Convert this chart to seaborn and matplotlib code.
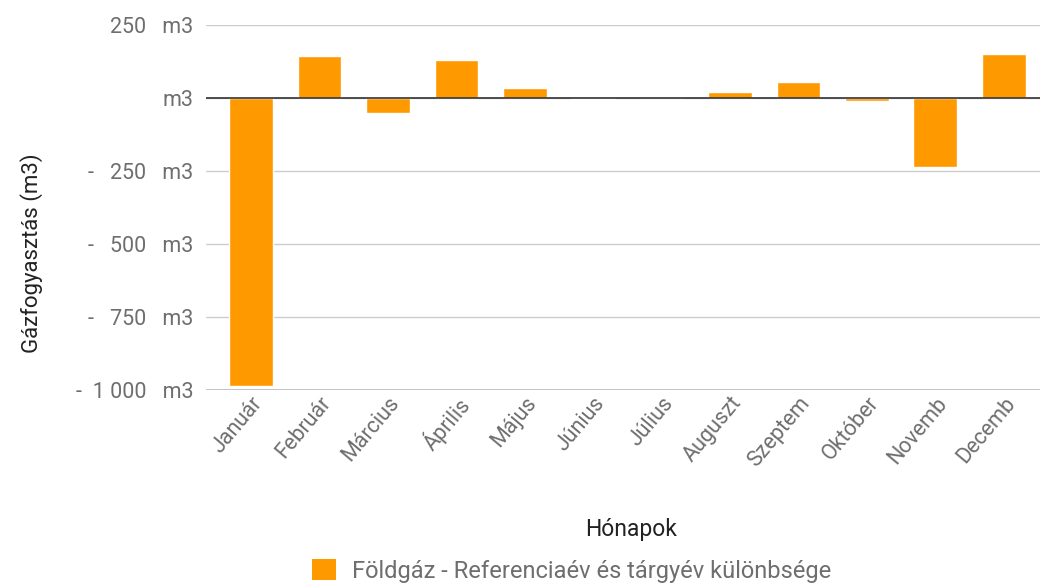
import matplotlib
matplotlib.use("Agg")
import matplotlib.pyplot as plt
import seaborn as sns
import pandas as pd
from matplotlib.patches import Patch

# Adatok (m3)
honapok = ["Január", "Február", "Március", "Április", "Május", "Június",
           "Július", "Auguszt", "Szeptem", "Október", "Novemb", "Decemb"]
kulonbseg = [-988, 145, -50, 130, 35, -3, 0, 22, 56, -10, -235, 151]
y_ticks = [250, 0, -250, -500, -750, -1000]
y_tick_labels = ["250   m3", "m3", "-   250   m3", "-   500   m3", "-   750   m3", "-  1 000   m3"]

narancs = "#ff9900"
szurke = "#6e6e6e"

sns.set_theme(style="white")
plt.rcParams["font.family"] = ["Roboto", "DejaVu Sans"]

df = pd.DataFrame({"Hónap": honapok, "Érték": kulonbseg})

fig = plt.figure(figsize=(10.4, 5.86), dpi=100)
ax = fig.add_axes([206 / 1040, 1 - 390 / 586, 1 - 206 / 1040, (390 - 25) / 586])

sns.barplot(data=df, x="Hónap", y="Érték", color=narancs, width=0.64,
            saturation=1, ax=ax, zorder=3)

ax.set_ylim(-1000, 250)
ax.set_xlim(-0.66, 11.53)
ax.set_yticks(y_ticks)
ax.set_yticklabels(y_tick_labels)
ax.grid(axis="y", color="#cccccc", linewidth=1, zorder=0)
ax.axhline(0, color="#333333", linewidth=1.2, zorder=4)
ax.axhline(-1000, color="#bbbbbb", linewidth=1.2, zorder=4)

for s in ax.spines.values():
    s.set_visible(False)

ax.tick_params(axis="y", length=0, pad=9, labelsize=15.5, labelcolor=szurke)
ax.tick_params(axis="x", length=0, pad=2, labelsize=15.5, labelcolor=szurke)
plt.setp(ax.get_xticklabels(), rotation=50, ha="right", rotation_mode="anchor")

ax.set_ylabel("Gázfogyasztás (m3)", fontsize=16, color="#222222")
ax.yaxis.set_label_coords(-0.196, 0.375)
ax.set_xlabel("Hónapok", fontsize=16.5, color="#222222")
ax.xaxis.set_label_coords(0.51, -0.35)

handle = Patch(facecolor=narancs, edgecolor="none")
fig.legend([handle], ["Földgáz - Referenciaév és tárgyév különbsége"],
           loc="center", bbox_to_anchor=(0.55, 1 - 571 / 586), frameon=False,
           fontsize=17, labelcolor=szurke, handlelength=1.0, handleheight=1.0,
           handletextpad=0.7)

fig.savefig("out.png", dpi=100)
